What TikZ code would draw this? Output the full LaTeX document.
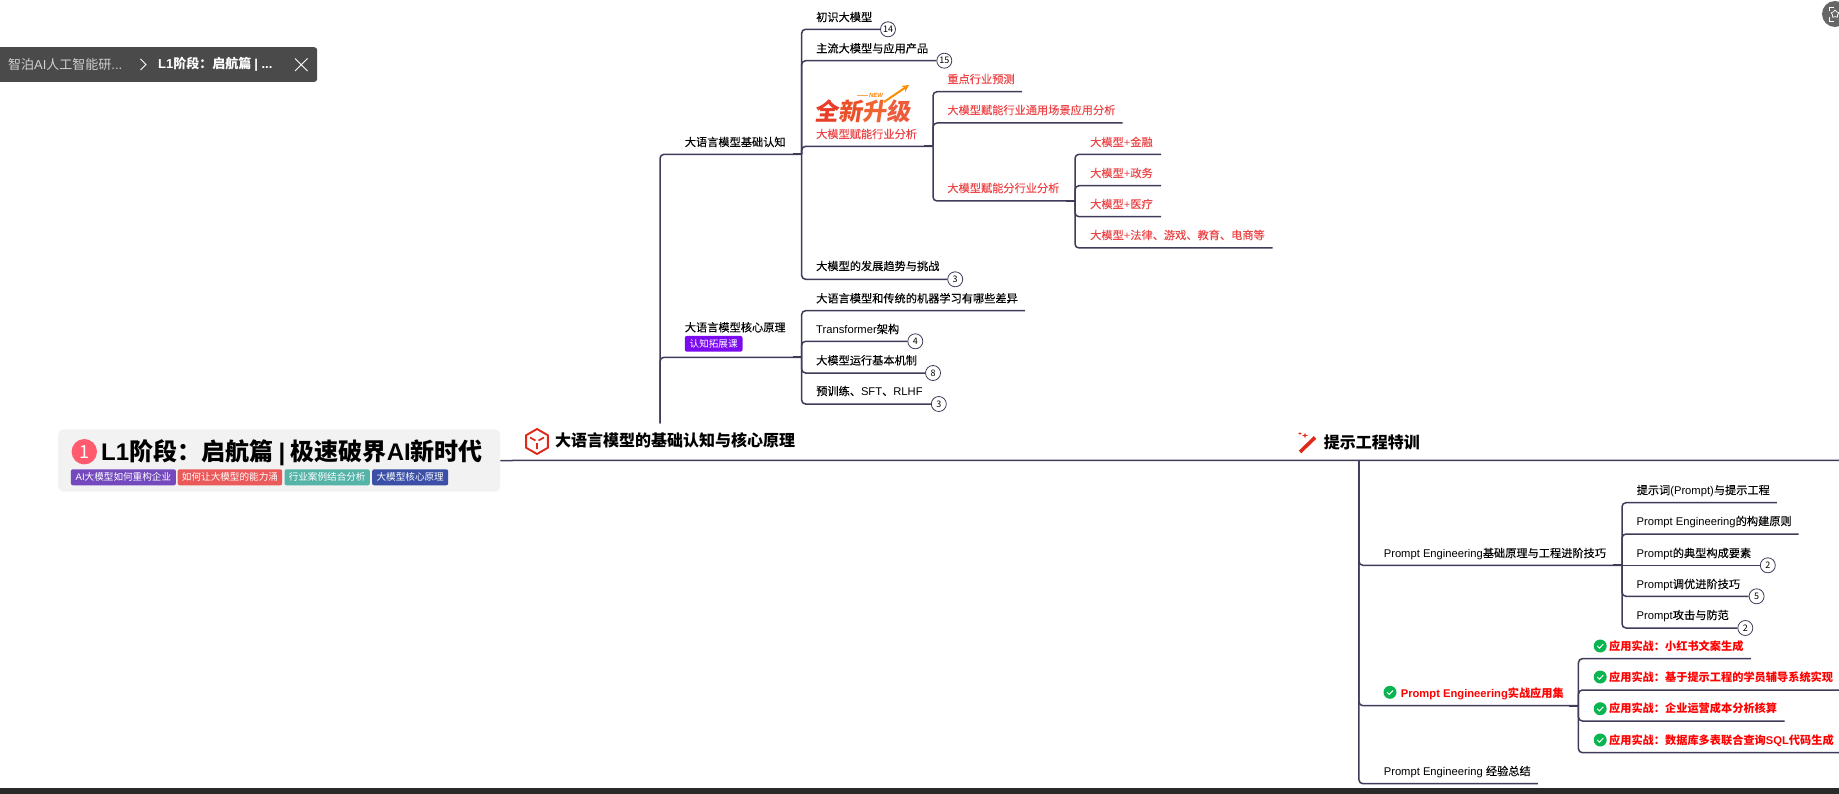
\documentclass[tikz,border=0pt]{standalone}
\usepackage{fontspec}
\setmainfont{Noto Sans CJK SC}
\newfontfamily\regfont[FakeBold=0.15]{Noto Sans CJK SC}
\newfontfamily\latfont{Liberation Sans}
\newcommand{\lat}[1]{{\latfont #1}}
\newcommand{\wcolon}{\char"FF1A\relax}
\usetikzlibrary{shapes.geometric, arrows.meta, positioning, calc}
\definecolor{linecolor}{RGB}{62, 60, 88}
\definecolor{hotcolor}{RGB}{236, 70, 72}
\definecolor{alarmcolor}{RGB}{255, 0, 0}
\definecolor{okcolor}{RGB}{10, 180, 80}
\definecolor{rootcolor}{RGB}{242, 242, 242}
\definecolor{dotcolor}{RGB}{255, 90, 110}
\definecolor{barcolor}{RGB}{74, 74, 74}
\definecolor{footcolor}{RGB}{42, 42, 42}
\definecolor{icocolor}{RGB}{224, 40, 24}

\begin{document}
\begin{tikzpicture}[
    x=1pt, y=-1pt,
    topic/.style={anchor=west, inner sep=0pt, text height=8.5pt, text depth=0pt, font=\fontsize{11.2}{13}\selectfont\regfont},
    hot/.style={topic, text=hotcolor},
    alarm/.style={topic, text=alarmcolor, font=\fontsize{11.2}{13}\selectfont\bfseries},
    cat/.style={anchor=west, inner sep=0pt, font=\fontsize{16}{18}\selectfont\bfseries},
    tag/.style={anchor=west, inner sep=0pt, rounded corners=2pt, minimum height=16pt, text=white, font=\fontsize{9.6}{11}\selectfont},
    badge/.style={circle, draw=linecolor, fill=white, line width=0.8pt, minimum size=15pt, inner sep=0pt, font=\fontsize{9}{10}\selectfont},
    okdot/.style={circle, fill=okcolor, minimum size=13pt, inner sep=0pt, path picture={
        \draw[white, line width=1pt] ($(path picture bounding box.center)+(-3,0)$) -- ++(2.2,2.2) -- ++(3.8,-4);}},
    branch/.style={draw=linecolor, line width=1.5pt, rounded corners=4pt},
    stub/.style={draw=linecolor, line width=2.2pt}
]
    \useasboundingbox (0,0) rectangle (1839,794);

    % Root topic
    \node[fill=rootcolor, rounded corners=6pt, minimum width=442pt, minimum height=62.4pt, inner sep=0pt, anchor=west] (root) at (58,460.5) {};
    \node[circle, fill=dotcolor, minimum size=25.4pt, inner sep=0pt, text=white, font=\fontsize{18}{20}\selectfont] (rootdot) at (84.3,451.7) {1};
    \node[anchor=west, inner sep=0pt, font=\fontsize{24}{26}\selectfont\bfseries] (roottitle) at (101,452.7) {\lat{L1}阶段\wcolon 启航篇 \lat{|} 极速破界\lat{AI}新时代};
    \node[tag, fill={rgb,255:red,115;green,73;blue,189}, minimum width=105pt] (tag1) at (70.7,477.3) {\lat{AI}大模型如何重构企业};
    \node[tag, fill={rgb,255:red,235;green,90;blue,90}, minimum width=104.5pt] (tag2) at (177.5,477.3) {如何让大模型的能力涌};
    \node[tag, fill={rgb,255:red,86;green,179;blue,168}, minimum width=85.3pt] (tag3) at (284.3,477.3) {行业案例结合分析};
    \node[tag, fill={rgb,255:red,58;green,79;blue,165}, minimum width=76pt] (tag4) at (372,477.3) {大模型核心原理};

    % Main line
    \coordinate (mainend) at (1839,460.3);
    \draw[branch] (root.east) -- (mainend);

    % First chapter
    \node[cat] (catA) at (555,440) {大语言模型的基础认知与核心原理};
    \node[regular polygon, regular polygon sides=6, shape border rotate=30, draw=icocolor, line width=1.9pt, minimum size=25pt, inner sep=0pt] (cubeA) at (537,441.5) {};
    \draw[icocolor, line width=1.7pt] (cubeA.center) ++(0,1.5) -- ++(0,6) (cubeA.center) ++(-1.5,-1) -- ++(-5.5,-3) (cubeA.center) ++(1.5,-1) -- ++(5.5,-3);

    \coordinate (trunkA) at (660,423.3);
    \node[topic] (basic) at (684.6,142) {大语言模型基础认知};
    \node[topic] (core) at (684.6,327.3) {大语言模型核心原理};
    \node[anchor=west, inner sep=0pt, fill={rgb,255:red,123;green,10;blue,240}, rounded corners=2pt, minimum width=57.7pt, minimum height=15.7pt, text=white, font=\fontsize{9.6}{11}\selectfont] (corepill) at (684.6,343.8) {认知拓展课};
    \coordinate (hubB) at (801.6,154.3);
    \coordinate (hubC) at (801.6,357.3);
    \draw[branch] (trunkA) |- (hubB);
    \draw[branch] (trunkA) |- (hubC);

    % Basic group
    \node[topic] (intro) at (816,17) {初识大模型};
    \node[badge] (introb) at (888,29.3) {14};
    \node[topic] (prod) at (816,48.3) {主流大模型与应用产品};
    \node[badge] (prodb) at (944.3,60.7) {15};
    \node[hot] (indus) at (816,134) {大模型赋能行业分析};
    \coordinate (hubD) at (933,146.3);
    \node[topic] (trend) at (816,266) {大模型的发展趋势与挑战};
    \node[badge] (trendb) at (955.2,279.3) {3};
    \draw[branch] (hubB) |- (introb.west);
    \draw[branch] (hubB) |- (prodb.west);
    \draw[branch] (hubB) |- (hubD);
    \draw[branch] (hubB) |- (trendb.west);

    % Upgrade logo
    \node[anchor=west, inner sep=0pt, text height=20pt, text depth=0pt, xslant=0.15, font=\fontsize{24}{26}\selectfont\bfseries] (logo) at (816,110.5) {\textcolor[RGB]{232,62,40}{全}\textcolor[RGB]{236,80,40}{新}\textcolor[RGB]{240,100,50}{升}\textcolor[RGB]{238,90,60}{级}};
    \node[inner sep=0pt, text=orange, font=\fontsize{6}{7}\selectfont\bfseries\itshape] (logonew) at (876,95) {\lat{NEW}};
    \coordinate (logoc) at (857,96);
    \coordinate (logod) at (868,96);
    \draw[draw=orange!70, line width=1pt] (logoc) -- (logod);
    \coordinate (logoa) at (884,102);
    \coordinate (logob) at (909,85);
    \draw[-{Stealth[length=7pt,width=7pt]}, draw=orange!90!yellow, line width=2pt] (logoa) -- (logob);

    % Industry group
    \node[hot] (fore) at (947.2,79) {重点行业预测};
    \coordinate (foree) at (1022,91.7);
    \node[hot] (scene) at (947.2,110) {大模型赋能行业通用场景应用分析};
    \coordinate (scenee) at (1122.7,123);
    \node[hot] (split) at (947.2,188) {大模型赋能分行业分析};
    \coordinate (hubE) at (1075,201);
    \draw[branch] (hubD) |- (foree);
    \draw[branch] (hubD) |- (scenee);
    \draw[branch] (hubD) |- (hubE);

    \node[hot] (fin) at (1090,142) {大模型\lat{+}金融};
    \coordinate (fine) at (1161,154.3);
    \node[hot] (gov) at (1090,173) {大模型\lat{+}政务};
    \coordinate (gove) at (1161,185.7);
    \node[hot] (med) at (1090,204) {大模型\lat{+}医疗};
    \coordinate (mede) at (1161,216.7);
    \node[hot] (law) at (1090,235) {大模型\lat{+}法律、游戏、教育、电商等};
    \coordinate (lawe) at (1272.6,248);
    \draw[branch] (hubE) |- (fine);
    \draw[branch] (hubE) |- (gove);
    \draw[branch] (hubE) |- (mede);
    \draw[branch] (hubE) |- (lawe);

    % Core group
    \node[topic] (diff) at (816,298.3) {大语言模型和传统的机器学习有哪些差异};
    \coordinate (diffe) at (1025,310.7);
    \node[topic] (trans) at (816,329) {\lat{Transformer}架构};
    \node[badge] (transb) at (915.3,341.3) {4};
    \node[topic] (run) at (816,360.3) {大模型运行基本机制};
    \node[badge] (runb) at (933,373) {8};
    \node[topic] (pre) at (816,391) {预训练、\lat{SFT}、\lat{RLHF}};
    \node[badge] (preb) at (938.8,404) {3};
    \draw[branch] (hubC) |- (diffe);
    \draw[branch] (hubC) |- (transb.west);
    \draw[branch] (hubC) |- (runb.west);
    \draw[branch] (hubC) |- (preb.west);

    % Second chapter
    \node[cat] (catB) at (1323.7,442.3) {提示工程特训};
    \coordinate (wanda) at (1300,452);
    \coordinate (wandb) at (1315,437.5);
    \draw[icocolor, line width=3.6pt] (wanda) -- (wandb);
    \node[star, star points=4, star point ratio=3, fill=icocolor, minimum size=6pt, inner sep=0pt] (sparkA) at (1305,435.5) {};
    \node[star, star points=4, star point ratio=3, fill=icocolor, minimum size=4pt, inner sep=0pt] (sparkB) at (1300,433.5) {};

    \coordinate (trunkB) at (1358.9,460.3);
    \node[topic] (base) at (1383.6,553) {\lat{Prompt Engineering}基础原理与工程进阶技巧};
    \coordinate (hubF) at (1622,565.3);
    \node[okdot] (useo) at (1390,692.3) {};
    \node[alarm] (use) at (1400.6,693) {\lat{\bfseries Prompt Engineering}实战应用集};
    \coordinate (hubG) at (1578.4,705.7);
    \node[topic] (sum) at (1383.6,771) {\lat{Prompt Engineering }经验总结};
    \coordinate (sume) at (1537.8,783.7);
    \draw[branch] (trunkB) |- (hubF);
    \draw[branch] (trunkB) |- (hubG);
    \draw[branch] (trunkB) |- (sume);

    % Prompt group
    \node[topic] (word) at (1636.5,490) {提示词\lat{(Prompt)}与提示工程};
    \coordinate (worde) at (1776.9,502.7);
    \node[topic] (rule) at (1636.5,521) {\lat{Prompt Engineering}的构建原则};
    \coordinate (rulee) at (1798.7,534);
    \node[topic] (part) at (1636.5,553) {\lat{Prompt}的典型构成要素};
    \node[badge] (partb) at (1767.8,565.3) {2};
    \node[topic] (tune) at (1636.5,584) {\lat{Prompt}调优进阶技巧};
    \node[badge] (tuneb) at (1756.6,596.3) {5};
    \node[topic] (guard) at (1636.5,615) {\lat{Prompt}攻击与防范};
    \node[badge] (guardb) at (1745.3,628) {2};
    \draw[branch] (hubF) |- (worde);
    \draw[branch] (hubF) |- (rulee);
    \draw[branch] (hubF) -- (partb.west);
    \draw[branch] (hubF) |- (tuneb.west);
    \draw[branch] (hubF) |- (guardb.west);

    % Practice group
    \node[okdot] (caseAo) at (1600.2,646) {};
    \node[alarm] (caseA) at (1608.9,646) {应用实战\wcolon 小红书文案生成};
    \coordinate (caseAe) at (1750.8,658.7);
    \node[okdot] (caseBo) at (1600.2,677) {};
    \node[alarm] (caseB) at (1608.9,677) {应用实战\wcolon 基于提示工程的学员辅导系统实现};
    \coordinate (caseBe) at (1839,690);
    \node[okdot] (caseCo) at (1600.2,708.7) {};
    \node[alarm] (caseC) at (1608.9,708.7) {应用实战\wcolon 企业运营成本分析核算};
    \coordinate (caseCe) at (1784.5,721);
    \node[okdot] (caseDo) at (1600.2,740) {};
    \node[alarm] (caseD) at (1608.9,740) {应用实战\wcolon 数据库多表联合查询\lat{\bfseries SQL}代码生成};
    \coordinate (caseDe) at (1839,752.7);
    \draw[branch] (hubG) |- (caseAe);
    \draw[branch] (hubG) |- (caseBe);
    \draw[branch] (hubG) |- (caseCe);
    \draw[branch] (hubG) |- (caseDe);

    % Hub stubs
    \foreach \hubname in {hubB, hubC, hubD, hubE, hubF, hubG}
        \draw[stub] (\hubname) -- ++(-9,0);

    % Floating bar
    \node[anchor=north west, fill=barcolor, rounded corners=3pt, minimum width=323pt, minimum height=34.7pt, inner sep=0pt] (bar) at (-6,47) {};
    \node[anchor=west, inner sep=0pt, text={rgb,255:red,208;green,208;blue,208}, font=\fontsize{13}{15}\selectfont] (barpath) at (8,64.5) {智泊\lat{AI}人工智能研\lat{...}};
    \node[anchor=west, inner sep=0pt, text=white, font=\fontsize{13}{15}\selectfont\bfseries] (barname) at (158,64.5) {\lat{L1}阶段\wcolon 启航篇 \lat{| ...}};
    \coordinate (chevt) at (140.5,59);
    \coordinate (chevm) at (146,64.5);
    \coordinate (chevb) at (140.5,70);
    \draw[white, line width=1pt] (chevt) -- (chevm) -- (chevb);
    \coordinate (barxa) at (295,58.5);
    \coordinate (barxb) at (307.5,71);
    \coordinate (barxc) at (307.5,58.5);
    \coordinate (barxd) at (295,71);
    \draw[white, line width=1pt] (barxa) -- (barxb) (barxc) -- (barxd);

    % Screenshot button
    \node[circle, fill=black!60, minimum size=26pt, inner sep=0pt] (shot) at (1835,14) {};
    \node[star, star points=5, draw=white, line width=0.7pt, minimum size=8pt, inner sep=0pt] (shotstar) at (1835,14) {};
    \draw[white, line width=0.7pt] (1834,7.5) -| (1829,11) (1829,17) |- (1834,21);

    % Bottom strip
    \node[anchor=north west, fill=footcolor, minimum width=1839pt, minimum height=6pt, inner sep=0pt] (foot) at (0,788) {};
\end{tikzpicture}
\end{document}
